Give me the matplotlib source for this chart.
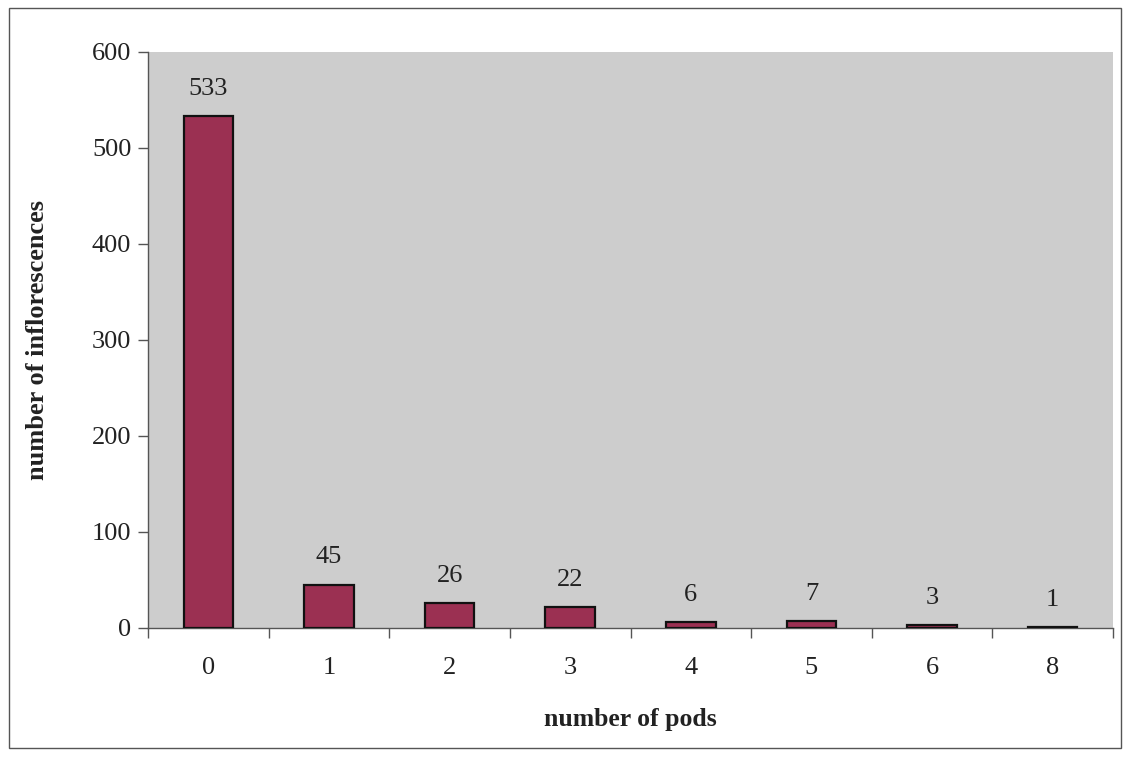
import matplotlib
matplotlib.use("Agg")
import matplotlib.pyplot as plt
from matplotlib.patches import Rectangle
import numpy as np

# pods per inflorescence and how many inflorescences had that count
pod_counts = ["0", "1", "2", "3", "4", "5", "6", "8"]
inflorescences = [533, 45, 26, 22, 6, 7, 3, 1]
y_ticks = [0, 100, 200, 300, 400, 500, 600]

plt.rcParams["font.family"] = ["Liberation Serif", "DejaVu Serif"]

fig = plt.figure(figsize=(11.31, 7.59), dpi=100)
fig.patch.set_facecolor("white")

# thin frame around the whole chart
fig.patches.append(Rectangle((9 / 1131, 11 / 759), 1112 / 1131, 740 / 759,
                             transform=fig.transFigure, fill=False,
                             edgecolor="#555555", linewidth=1.0))

ax = fig.add_axes([148 / 1131, 1 - 628 / 759, (1113 - 148) / 1131, (628 - 52) / 759])
ax.set_facecolor("#cdcdcd")

x = np.arange(len(pod_counts))
bars = ax.bar(x, inflorescences, width=0.41, color="#9b3052",
              edgecolor="#111111", linewidth=1.6, zorder=3)

for xi, v in zip(x, inflorescences):
    ax.text(xi, v + 17, str(v), ha="center", va="bottom", fontsize=19,
            color="#222222")

ax.set_xlim(-0.5, len(pod_counts) - 0.5)
ax.set_ylim(0, 600)
ax.set_yticks(y_ticks)
ax.set_yticklabels([str(t) for t in y_ticks], fontsize=19, color="#222222")

# category labels centred under bars, tick marks between categories
ax.set_xticks(np.arange(-0.5, len(pod_counts), 1.0))
ax.set_xticklabels([])
ax.set_xticks(x, minor=True)
ax.set_xticklabels(pod_counts, minor=True, fontsize=19, color="#222222")
ax.tick_params(axis="x", which="minor", length=0, pad=21)
ax.tick_params(axis="x", which="major", length=7, width=1.0, color="#555555",
               direction="out")
ax.tick_params(axis="y", length=7, width=1.0, color="#555555", pad=5)

for side in ("top", "right"):
    ax.spines[side].set_visible(False)
for side in ("left", "bottom"):
    ax.spines[side].set_color("#555555")
    ax.spines[side].set_linewidth(1.0)

ax.set_xlabel("number of pods", fontsize=18.5, fontweight="bold", labelpad=21,
              color="#222222")
ax.set_ylabel("number of inflorescences", fontsize=19, fontweight="bold",
              labelpad=31, color="#222222")

fig.savefig("out.png", dpi=100, facecolor="white")
